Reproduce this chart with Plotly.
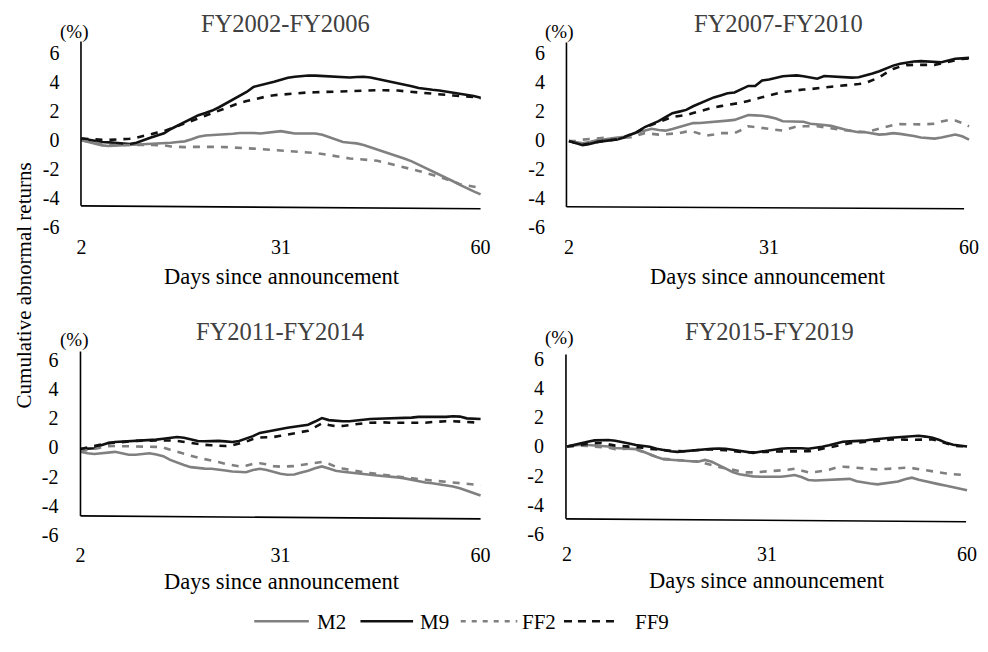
import plotly.graph_objects as go

# ---------------- data ----------------
days = list(range(2, 61))
panel_titles = ["FY2002-FY2006", "FY2007-FY2010", "FY2011-FY2014", "FY2015-FY2019"]
series_names = ["M2", "M9", "FF2", "FF9"]
x_tick_vals = [2, 31, 60]
y_tick_vals = [-6, -4, -2, 0, 2, 4, 6]
x_title = "Days since announcement"
y_title = "Cumulative abnormal returns"
unit_label = "(%)"

p1_m2 = [-0.02, -0.15, -0.28, -0.38, -0.42, -0.40, -0.38, -0.36, -0.35, -0.33,
         -0.30, -0.28, -0.27, -0.20, -0.14, -0.10, 0.05, 0.22, 0.30, 0.32,
         0.36, 0.40, 0.42, 0.48, 0.50, 0.48, 0.44, 0.50, 0.58, 0.60,
         0.52, 0.44, 0.44, 0.45, 0.44, 0.35, 0.20, 0.02, -0.15, -0.20,
         -0.24, -0.35, -0.50, -0.68, -0.82, -0.97, -1.10, -1.30, -1.48, -1.70,
         -1.95, -2.15, -2.40, -2.60, -2.85, -3.10, -3.35, -3.55, -3.75]
p1_m9 = [0.10, 0.00, -0.08, -0.15, -0.17, -0.20, -0.25, -0.28, -0.20, 0.00,
         0.15, 0.30, 0.45, 0.75, 1.00, 1.25, 1.50, 1.70, 1.85, 2.02,
         2.25, 2.50, 2.75, 3.00, 3.30, 3.65, 3.75, 3.85, 4.00, 4.15,
         4.28, 4.35, 4.40, 4.44, 4.43, 4.40, 4.40, 4.35, 4.30, 4.30,
         4.33, 4.35, 4.30, 4.20, 4.12, 4.05, 3.95, 3.80, 3.70, 3.58,
         3.50, 3.45, 3.40, 3.32, 3.25, 3.20, 3.12, 3.02, 2.90]
p1_ff2 = [-0.02, -0.12, -0.22, -0.30, -0.35, -0.36, -0.36, -0.35, -0.35, -0.35,
          -0.35, -0.35, -0.38, -0.45, -0.50, -0.50, -0.48, -0.47, -0.46, -0.46,
          -0.48, -0.50, -0.54, -0.57, -0.58, -0.60, -0.63, -0.66, -0.68, -0.70,
          -0.74, -0.78, -0.82, -0.85, -0.90, -0.97, -1.05, -1.15, -1.24, -1.28,
          -1.31, -1.35, -1.40, -1.44, -1.55, -1.66, -1.76, -1.90, -2.02, -2.14,
          -2.26, -2.40, -2.55, -2.70, -2.85, -3.05, -3.15, -3.22, -3.30]
p1_ff9 = [0.10, 0.05, 0.02, 0.00, 0.00, 0.02, 0.05, 0.08, 0.15, 0.28,
          0.38, 0.50, 0.60, 0.78, 0.92, 1.10, 1.28, 1.45, 1.65, 1.82,
          2.00, 2.20, 2.38, 2.55, 2.68, 2.80, 2.90, 3.00, 3.08, 3.12,
          3.18, 3.22, 3.25, 3.27, 3.28, 3.30, 3.31, 3.32, 3.33, 3.35,
          3.37, 3.38, 3.40, 3.42, 3.42, 3.42, 3.40, 3.35, 3.30, 3.25,
          3.22, 3.18, 3.14, 3.10, 3.06, 3.03, 3.00, 2.95, 2.85]

p2_m2 = [-0.05, -0.12, -0.20, -0.12, 0.00, 0.05, 0.10, 0.15, 0.25, 0.42,
         0.55, 0.70, 0.80, 0.72, 0.67, 0.78, 0.90, 1.05, 1.19, 1.20,
         1.23, 1.27, 1.32, 1.36, 1.41, 1.60, 1.75, 1.72, 1.70, 1.62,
         1.50, 1.32, 1.30, 1.32, 1.28, 1.15, 1.08, 1.06, 1.00, 0.85,
         0.75, 0.65, 0.56, 0.56, 0.48, 0.40, 0.43, 0.50, 0.45, 0.40,
         0.30, 0.20, 0.14, 0.12, 0.20, 0.32, 0.40, 0.28, 0.05]
p2_m9 = [-0.05, -0.20, -0.33, -0.25, -0.12, -0.05, 0.00, 0.06, 0.20, 0.40,
         0.60, 0.92, 1.10, 1.33, 1.60, 1.87, 1.98, 2.10, 2.35, 2.55,
         2.75, 2.96, 3.10, 3.25, 3.30, 3.55, 3.75, 3.75, 4.12, 4.20,
         4.33, 4.42, 4.45, 4.48, 4.42, 4.33, 4.25, 4.43, 4.40, 4.37,
         4.35, 4.32, 4.35, 4.45, 4.60, 4.76, 4.95, 5.15, 5.28, 5.38,
         5.43, 5.46, 5.42, 5.39, 5.38, 5.50, 5.62, 5.65, 5.68]
p2_ff2 = [-0.05, -0.05, 0.05, 0.10, 0.15, 0.17, 0.15, 0.15, 0.18, 0.22,
          0.35, 0.50, 0.45, 0.40, 0.42, 0.45, 0.50, 0.60, 0.60, 0.45,
          0.33, 0.40, 0.50, 0.50, 0.50, 0.72, 0.97, 0.92, 0.85, 0.80,
          0.72, 0.67, 0.82, 0.95, 0.97, 0.97, 0.97, 0.90, 0.82, 0.75,
          0.70, 0.65, 0.62, 0.58, 0.68, 0.82, 0.95, 1.05, 1.12, 1.10,
          1.08, 1.10, 1.12, 1.15, 1.30, 1.40, 1.37, 1.20, 0.97]
p2_ff9 = [-0.05, -0.18, -0.30, -0.22, -0.10, -0.03, 0.02, 0.08, 0.22, 0.42,
          0.62, 0.90, 1.08, 1.28, 1.45, 1.62, 1.68, 1.75, 1.88, 2.02,
          2.15, 2.27, 2.36, 2.43, 2.48, 2.60, 2.72, 2.85, 3.00, 3.12,
          3.22, 3.33, 3.40, 3.47, 3.50, 3.53, 3.57, 3.63, 3.70, 3.75,
          3.78, 3.82, 3.88, 3.95, 4.15, 4.35, 4.65, 4.92, 5.08, 5.18,
          5.20, 5.20, 5.18, 5.20, 5.30, 5.42, 5.52, 5.60, 5.65]

p3_m2 = [-0.29, -0.40, -0.45, -0.40, -0.32, -0.30, -0.40, -0.50, -0.50, -0.45,
         -0.40, -0.48, -0.60, -0.85, -1.05, -1.20, -1.35, -1.42, -1.45, -1.46,
         -1.50, -1.58, -1.65, -1.70, -1.70, -1.55, -1.46, -1.55, -1.68, -1.80,
         -1.87, -1.85, -1.72, -1.60, -1.42, -1.30, -1.45, -1.60, -1.66, -1.70,
         -1.74, -1.80, -1.87, -1.92, -1.95, -1.98, -2.05, -2.12, -2.22, -2.32,
         -2.40, -2.45, -2.52, -2.58, -2.68, -2.80, -2.95, -3.10, -3.30]
p3_m9 = [-0.11, -0.10, -0.05, 0.15, 0.30, 0.38, 0.40, 0.42, 0.45, 0.47,
         0.50, 0.54, 0.60, 0.68, 0.72, 0.67, 0.58, 0.45, 0.43, 0.45,
         0.45, 0.42, 0.38, 0.45, 0.60, 0.78, 1.00, 1.10, 1.18, 1.25,
         1.35, 1.42, 1.48, 1.56, 1.78, 2.02, 1.88, 1.82, 1.80, 1.80,
         1.86, 1.94, 1.96, 1.97, 1.98, 1.98, 1.98, 2.00, 2.05, 2.10,
         2.10, 2.08, 2.07, 2.10, 2.14, 2.12, 2.00, 1.96, 1.95]
p3_ff2 = [-0.25, -0.20, -0.10, 0.00, 0.08, 0.10, 0.10, 0.10, 0.10, 0.08,
          0.05, 0.04, 0.00, -0.15, -0.30, -0.45, -0.60, -0.70, -0.80, -0.88,
          -1.00, -1.12, -1.22, -1.30, -1.25, -1.12, -1.08, -1.15, -1.28, -1.32,
          -1.30, -1.28, -1.20, -1.12, -1.05, -1.00, -1.12, -1.32, -1.45, -1.55,
          -1.62, -1.70, -1.76, -1.82, -1.90, -1.97, -2.02, -2.07, -2.12, -2.17,
          -2.22, -2.26, -2.30, -2.35, -2.40, -2.45, -2.50, -2.54, -2.60]
p3_ff9 = [-0.11, 0.00, 0.10, 0.20, 0.30, 0.33, 0.38, 0.42, 0.45, 0.47,
          0.48, 0.50, 0.50, 0.48, 0.45, 0.38, 0.30, 0.25, 0.18, 0.15,
          0.12, 0.10, 0.15, 0.25, 0.40, 0.58, 0.68, 0.70, 0.72, 0.80,
          0.88, 0.96, 1.05, 1.15, 1.40, 1.66, 1.55, 1.46, 1.48, 1.55,
          1.62, 1.66, 1.70, 1.73, 1.72, 1.70, 1.69, 1.69, 1.68, 1.66,
          1.70, 1.75, 1.80, 1.80, 1.80, 1.78, 1.76, 1.73, 1.70]

p4_m2 = [0.00, 0.06, 0.12, 0.10, 0.08, 0.07, 0.00, -0.10, -0.12, -0.14,
         -0.18, -0.35, -0.56, -0.72, -0.88, -0.92, -0.94, -0.96, -1.05, -1.05,
         -0.92, -1.05, -1.28, -1.50, -1.75, -1.90, -2.00, -2.05, -2.08, -2.08,
         -2.08, -2.08, -2.02, -1.96, -2.10, -2.30, -2.33, -2.31, -2.28, -2.22,
         -2.20, -2.22, -2.38, -2.48, -2.54, -2.60, -2.55, -2.48, -2.40, -2.25,
         -2.14, -2.28, -2.40, -2.50, -2.60, -2.70, -2.82, -2.90, -3.00]
p4_m9 = [0.00, 0.12, 0.22, 0.32, 0.42, 0.46, 0.45, 0.40, 0.32, 0.20,
         0.10, 0.06, -0.02, -0.15, -0.26, -0.33, -0.37, -0.32, -0.28, -0.20,
         -0.15, -0.15, -0.14, -0.15, -0.22, -0.30, -0.38, -0.44, -0.36, -0.28,
         -0.22, -0.15, -0.12, -0.10, -0.12, -0.15, -0.10, -0.02, 0.08, 0.20,
         0.33, 0.35, 0.35, 0.40, 0.46, 0.52, 0.58, 0.60, 0.63, 0.67,
         0.70, 0.74, 0.68, 0.60, 0.45, 0.25, 0.12, 0.05, 0.00]
p4_ff2 = [0.00, 0.03, 0.05, 0.03, 0.00, 0.00, -0.08, -0.18, -0.17, -0.15,
          -0.20, -0.38, -0.56, -0.72, -0.85, -0.90, -0.93, -0.96, -1.00, -1.02,
          -1.15, -1.30, -1.40, -1.50, -1.58, -1.68, -1.78, -1.78, -1.75, -1.73,
          -1.70, -1.68, -1.60, -1.53, -1.65, -1.78, -1.75, -1.68, -1.60, -1.45,
          -1.39, -1.42, -1.46, -1.50, -1.55, -1.58, -1.55, -1.51, -1.49, -1.46,
          -1.48, -1.56, -1.65, -1.72, -1.78, -1.85, -1.90, -1.95, -1.98]
p4_ff9 = [0.00, 0.06, 0.12, 0.18, 0.23, 0.24, 0.15, 0.06, 0.03, 0.00,
          0.00, -0.08, -0.16, -0.22, -0.26, -0.29, -0.31, -0.33, -0.28, -0.22,
          -0.21, -0.21, -0.21, -0.25, -0.32, -0.38, -0.40, -0.40, -0.40, -0.37,
          -0.34, -0.33, -0.33, -0.33, -0.33, -0.33, -0.25, -0.15, -0.08, 0.05,
          0.15, 0.22, 0.27, 0.30, 0.33, 0.35, 0.42, 0.49, 0.50, 0.47,
          0.46, 0.48, 0.51, 0.48, 0.36, 0.22, 0.06, 0.02, 0.00]

panels = [
    [p1_m2, p1_m9, p1_ff2, p1_ff9],
    [p2_m2, p2_m9, p2_ff2, p2_ff9],
    [p3_m2, p3_m9, p3_ff2, p3_ff9],
    [p4_m2, p4_m9, p4_ff2, p4_ff9],
]

# ---------------- style / layout ----------------
OFF = 8                      # page body margin
W, H = 988 - 2 * OFF, 652 - 2 * OFF   # figure fits the window with its margins
FONT = "Liberation Serif"
GRAY = "#808080"
BLACK = "#111111"
styles = [
    dict(color=GRAY, dash="solid"),
    dict(color=BLACK, dash="solid"),
    dict(color=GRAY, dash="7px,7px"),
    dict(color=BLACK, dash="7px,7px"),
]
LW = 2.6

# pixel geometry per panel (screen pixels)
geo = [
    dict(L=81, R=483, Z=142, S=14.75, vx=80.5, vtop=42, hy0=209, hx1=483, hy1=212,
         title=(287, 24), pct=(73, 32), xt=(283, 281)),
    dict(L=572, R=975, Z=142.5, S=14.75, vx=569.5, vtop=43, hy0=210, hx1=970, hy1=212,
         title=(783, 24), pct=(562, 32), xt=(773, 281)),
    dict(L=80, R=483, Z=454.5, S=14.8, vx=80, vtop=357, hy0=524, hx1=483, hy1=527,
         title=(281, 337), pct=(73, 345), xt=(283, 591)),
    dict(L=570, R=973, Z=453.5, S=14.8, vx=569, vtop=360, hy0=527, hx1=972, hy1=530,
         title=(774, 337), pct=(562, 343), xt=(772, 590)),
]

def px(xp):
    return (xp - OFF) / W

def py(yp):
    return 1 - (yp - OFF) / H

fig = go.Figure()
layout = dict(
    width=W, height=H, margin=dict(l=0, r=0, t=0, b=0),
    paper_bgcolor="white", plot_bgcolor="rgba(0,0,0,0)",
    showlegend=False, font=dict(family=FONT, color="black"),
)
shapes = []
annotations = []
YMIN, YMAX = -6.05, 6.9
PAD = 4
TICK_SIZE = 20

for i, (g, data) in enumerate(zip(geo, panels)):
    n = i + 1
    xa = "x" if n == 1 else f"x{n}"
    ya = "y" if n == 1 else f"y{n}"
    for name, vals, st in zip(series_names, data, styles):
        assert len(vals) == len(days), (i, name, len(vals))
        fig.add_trace(go.Scatter(
            x=days, y=vals, mode="lines", name=name, xaxis=xa, yaxis=ya,
            line=dict(color=st["color"], dash=st["dash"], width=LW),
            showlegend=False, hoverinfo="x+y+name",
        ))
    ppd = (g["R"] - g["L"]) / 58.0
    x0p, x1p = g["L"] - PAD, min(g["R"] + PAD, OFF + W)
    T = g["Z"] - YMAX * g["S"]
    B = g["Z"] - YMIN * g["S"]
    layout["xaxis" if n == 1 else f"xaxis{n}"] = dict(
        domain=[px(x0p), px(x1p)],
        range=[2 - PAD / ppd, 60 + (x1p - g["R"]) / ppd],
        anchor=ya, tickvals=x_tick_vals, ticktext=[str(v) for v in x_tick_vals],
        ticks="outside", ticklen=1, tickcolor="rgba(0,0,0,0)",
        showgrid=False, zeroline=False, showline=False,
        tickfont=dict(family=FONT, size=TICK_SIZE, color="black"),
    )
    layout["yaxis" if n == 1 else f"yaxis{n}"] = dict(
        domain=[py(B), py(T)], range=[YMIN, YMAX], anchor=xa,
        tickvals=y_tick_vals, ticktext=[str(v) for v in y_tick_vals],
        ticks="outside", ticklen=int(x0p - (g["vx"] - 20) - 3), tickcolor="rgba(0,0,0,0)",
        showgrid=False, zeroline=False, showline=False,
        tickfont=dict(family=FONT, size=TICK_SIZE, color="black"),
    )
    # axis lines
    shapes.append(dict(type="line", xref="paper", yref="paper",
                       x0=px(g["vx"]), x1=px(g["vx"]), y0=py(g["hy0"]), y1=py(g["vtop"]),
                       line=dict(color="black", width=1.6)))
    shapes.append(dict(type="line", xref="paper", yref="paper",
                       x0=px(g["vx"]), x1=px(g["hx1"]), y0=py(g["hy0"]), y1=py(g["hy1"]),
                       line=dict(color="black", width=1.6)))
    annotations.append(dict(text=panel_titles[i], x=px(g["title"][0]), y=py(g["title"][1]),
                            xref="paper", yref="paper", showarrow=False,
                            xanchor="center", yanchor="middle",
                            font=dict(family=FONT, size=24.5, color="#404040")))
    annotations.append(dict(text=unit_label, x=px(g["pct"][0]), y=py(g["pct"][1]),
                            xref="paper", yref="paper", showarrow=False,
                            xanchor="center", yanchor="middle",
                            font=dict(family=FONT, size=19, color="black")))
    annotations.append(dict(text=x_title, x=px(g["xt"][0]), y=py(g["xt"][1]),
                            xref="paper", yref="paper", showarrow=False,
                            xanchor="center", yanchor="middle",
                            font=dict(family=FONT, size=22.5, color="black")))

annotations.append(dict(text=y_title, x=px(23), y=py(290), xref="paper", yref="paper",
                        showarrow=False, textangle=-90, xanchor="center", yanchor="middle",
                        font=dict(family=FONT, size=21, color="black")))

# manual legend
leg_y = 631
leg_items = [(255, 310, 316), (362, 415, 420), (463, 520, 523), (567, 620, 637)]
leg_dash = ["solid", "solid", "5px,6px", "8px,6px"]
for (a, b, tx), name, st, dsh in zip(leg_items, series_names, styles, leg_dash):
    shapes.append(dict(type="line", xref="paper", yref="paper",
                       x0=px(a), x1=px(b), y0=py(leg_y), y1=py(leg_y),
                       line=dict(color=st["color"], width=LW, dash=dsh)))
    annotations.append(dict(text=name, x=px(tx), y=py(leg_y + 1), xref="paper", yref="paper",
                            showarrow=False, xanchor="left", yanchor="middle",
                            font=dict(family=FONT, size=21, color="black")))

layout["shapes"] = shapes
layout["annotations"] = annotations
fig.update_layout(**layout)
fig.write_html("out.html")
